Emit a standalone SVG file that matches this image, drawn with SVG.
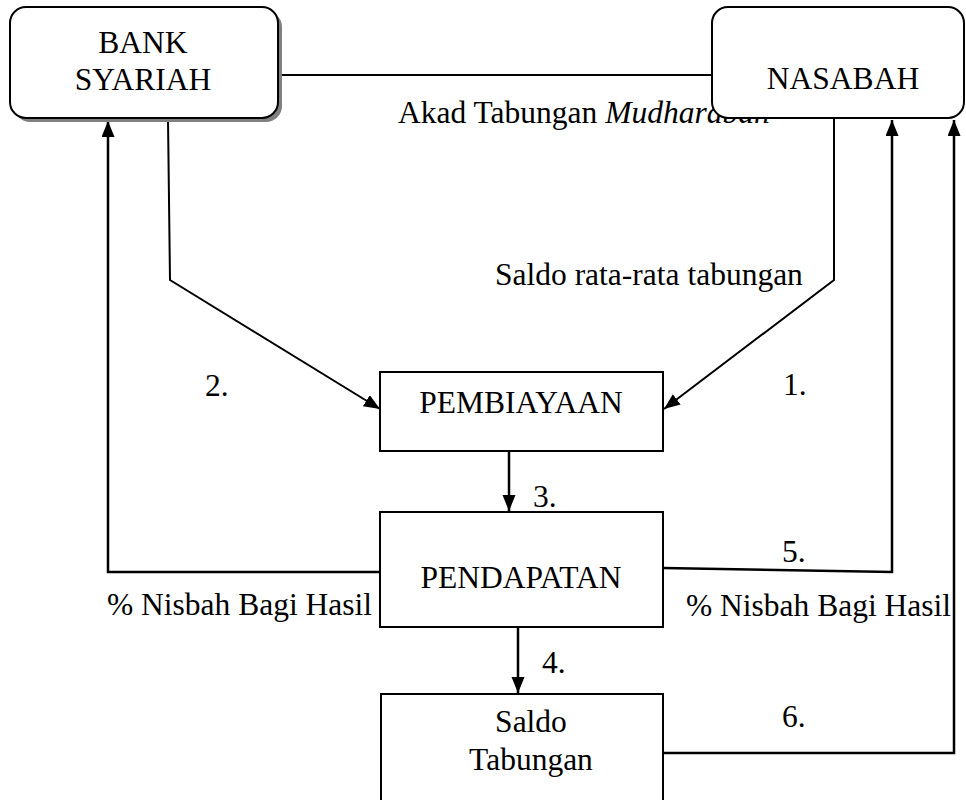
<svg xmlns="http://www.w3.org/2000/svg" width="966" height="800" viewBox="0 0 966 800">
<style>
  text { font-family: 'Liberation Serif', 'Times New Roman', Times, 'DejaVu Serif', serif; font-size: 31.5px; fill: #000; }
  .c { text-anchor: middle; }
  .box { fill: #fff; stroke: #000; stroke-width: 2; }
  .ln { fill: none; stroke: #000; stroke-width: 2; }
  .ar { fill: none; stroke: #000; stroke-width: 2.5; marker-end: url(#ah); }
  .arl { fill: none; stroke: #000; stroke-width: 2; marker-end: url(#ah); }
</style>
<defs>
  <marker id="ah" markerUnits="userSpaceOnUse" markerWidth="18" markerHeight="14" refX="16" refY="6.5" orient="auto">
    <path d="M0,0 L16,6.5 L0,13 z" fill="#000"/>
  </marker>
</defs>
<rect width="966" height="800" fill="#fff"/>
<g id="connectors">
  <line class="ln" x1="278" y1="75" x2="712" y2="75"/>
  <text x="398" y="123">Akad Tabungan <tspan font-style="italic">Mudharabah</tspan></text>
  <polyline class="arl" points="834,119 834,280 664,409"/>
  <text x="495" y="285">Saldo rata-rata tabungan</text>
  <text x="783" y="395">1.</text>
  <polyline class="arl" points="168,119 170,280 380,409"/>
  <text x="205" y="396">2.</text>
  <line class="ar" x1="509" y1="451" x2="509" y2="511"/>
  <text x="533" y="507">3.</text>
  <line class="ar" x1="518" y1="627" x2="518" y2="693"/>
  <text x="542" y="673">4.</text>
  <polyline class="ar" points="380,572 108,572 108,121"/>
  <text x="107" y="615">% Nisbah Bagi Hasil</text>
  <polyline class="ar" points="663,568 892,572 892,120"/>
  <text x="782" y="562">5.</text>
  <text x="686" y="616">% Nisbah Bagi Hasil</text>
  <polyline class="ar" points="663,753 954,753 954,120"/>
  <text x="782" y="727">6.</text>
</g>
<g id="bank-syariah">
  <rect x="14" y="11" width="268" height="111" rx="16" fill="#808080"/>
  <rect class="box" x="10" y="7" width="268" height="111" rx="16"/>
  <text class="c" x="143" y="53">BANK</text>
  <text class="c" x="143" y="90">SYARIAH</text>
</g>
<g id="nasabah">
  <rect class="box" x="712" y="7" width="252" height="111" rx="16"/>
  <text class="c" x="843" y="89">NASABAH</text>
</g>
<g id="pembiayaan">
  <rect class="box" x="380" y="372" width="283" height="79"/>
  <text class="c" x="521" y="413">PEMBIAYAAN</text>
</g>
<g id="pendapatan">
  <rect class="box" x="380" y="512" width="283" height="115"/>
  <text class="c" x="521" y="588">PENDAPATAN</text>
</g>
<g id="saldo-tabungan">
  <rect class="box" x="381" y="694" width="282" height="120"/>
  <text class="c" x="531" y="732">Saldo</text>
  <text class="c" x="531" y="770">Tabungan</text>
</g>
</svg>
